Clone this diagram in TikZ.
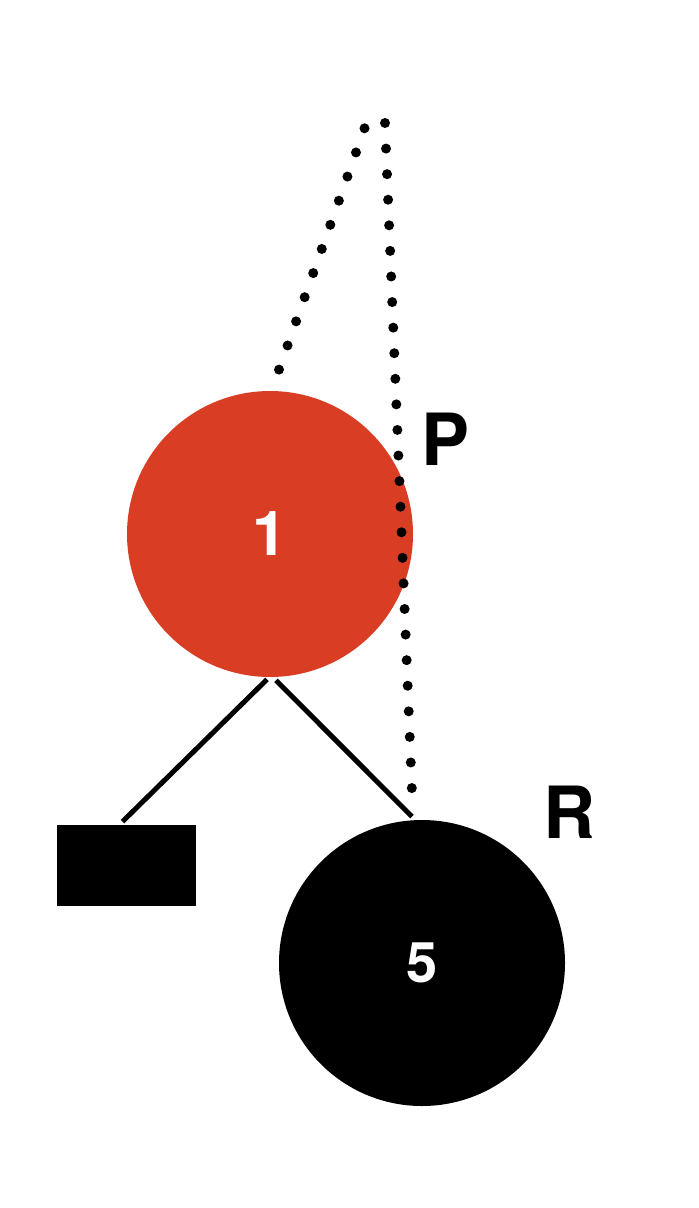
\documentclass[tikz,border=0pt]{standalone}
\usepackage{fontspec}
\setmainfont{TeX Gyre Heros}
\definecolor{nodered}{RGB}{217,62,36}
\begin{document}
\begin{tikzpicture}[
		x=0.5pt, y=-0.5pt,
		treenode/.style={circle, minimum size=143pt, inner sep=0pt, text=white},
		leafbox/.style={rectangle, fill=black, minimum width=69.5pt, minimum height=40.5pt, inner sep=0pt},
		tag/.style={font=\bfseries\fontsize{36pt}{36pt}\selectfont},
		edge/.style={draw, line width=2.5pt},
		rotation/.style={draw, line width=5pt, line cap=round, dash pattern=on 0pt off 12.8pt}
	]
	\useasboundingbox (0,0) rectangle (698,1208);
	\node[treenode, fill=nodered, font=\bfseries\fontsize{31pt}{31pt}\selectfont] (one) at (270,534) {1};
	\node[treenode, fill=black, font=\bfseries\fontsize{28pt}{28pt}\selectfont] (five) at (422,963) {5};
	\node[leafbox] (leaf) at (126.5,865.5) {};
	\node[tag] (p) at (446,439) {P};
	\node[tag] (r) at (569,812) {R};
	\coordinate (apex l) at (365,127);
	\coordinate (apex r) at (385,123);
	\draw[edge] ([shift={(-3,2)}]one.south) -- ([shift={(-4,-3)}]leaf.north);
	\draw[edge] ([shift={(6,3)}]one.south) -- ([shift={(-10,-3)}]five.north);
	\draw[rotation] ([shift={(9,-21)}]one.north) -- (apex l);
	\draw[rotation] (apex r) -- ([shift={(-10,-27)}]five.north);
\end{tikzpicture}
\end{document}
